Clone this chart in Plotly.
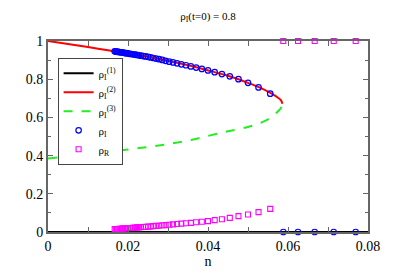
import plotly.graph_objects as go

# ---- data ----
# branch rho_I^(2) (upper, red)
n_red = [0, 0.005, 0.010, 0.015, 0.020, 0.025, 0.030, 0.035, 0.040, 0.045,
         0.050, 0.053, 0.0556, 0.0575, 0.0583, 0.0586]
rho_red = [1.0, 0.984, 0.968, 0.952, 0.936, 0.918, 0.897, 0.873, 0.846, 0.818,
           0.781, 0.756, 0.728, 0.703, 0.688, 0.671]
# branch rho_I^(3) (lower, green dashed)
n_green = [0, 0.005, 0.010, 0.015, 0.020, 0.025, 0.030, 0.035, 0.040, 0.045,
           0.050, 0.053, 0.055, 0.0565, 0.0575, 0.0582, 0.0586]
rho_green = [0.385, 0.396, 0.408, 0.420, 0.432, 0.445, 0.460, 0.479, 0.503, 0.527,
             0.550, 0.570, 0.590, 0.612, 0.632, 0.648, 0.671]
# branch rho_I^(1) (trivial, black)
n_black = [0, 0.08]
rho_black = [0, 0]

# simulation points, n = 1/L
n_sim = [0.07692, 0.07143, 0.06667, 0.0625, 0.05882,
         0.05556, 0.05263, 0.05, 0.04762, 0.04545, 0.04348, 0.04167, 0.04,
         0.03846, 0.03704, 0.03571, 0.03448, 0.03333, 0.03226, 0.03125, 0.0303,
         0.02941, 0.02857, 0.02778, 0.02703, 0.02632, 0.02564, 0.025, 0.02439,
         0.02381, 0.02326, 0.02273, 0.02222, 0.02174, 0.02128, 0.02083, 0.02041,
         0.02, 0.01961, 0.01923, 0.01887, 0.01852, 0.01818, 0.01786, 0.01754,
         0.01724, 0.01695, 0.01667]
rho_I_sim = [0, 0, 0, 0, 0,
             0.724, 0.757, 0.781, 0.800, 0.815, 0.827, 0.837, 0.846,
             0.854, 0.861, 0.867, 0.873, 0.878, 0.883, 0.888, 0.892,
             0.896, 0.901, 0.905, 0.908, 0.911, 0.914, 0.917, 0.919,
             0.921, 0.923, 0.925, 0.927, 0.929, 0.930, 0.932, 0.933,
             0.935, 0.936, 0.937, 0.939, 0.940, 0.941, 0.942, 0.943,
             0.944, 0.945, 0.946]
rho_R_sim = [1, 1, 1, 1, 1,
             0.121, 0.104, 0.092, 0.083, 0.074, 0.067, 0.062, 0.057,
             0.054, 0.051, 0.048, 0.046, 0.044, 0.042, 0.040, 0.038,
             0.036, 0.035, 0.033, 0.032, 0.031, 0.029, 0.028, 0.027,
             0.026, 0.025, 0.024, 0.024, 0.023, 0.022, 0.021, 0.021,
             0.020, 0.020, 0.019, 0.018, 0.018, 0.017, 0.017, 0.016,
             0.016, 0.016, 0.015]

x_ticks = [0, 0.02, 0.04, 0.06, 0.08]
y_ticks = [0, 0.2, 0.4, 0.6, 0.8, 1]

FONT = "Liberation Serif, Times New Roman, serif"

fig = go.Figure()
fig.add_trace(go.Scatter(x=n_black, y=rho_black, mode="lines",
                         line=dict(color="black", width=2),
                         name="ρ<sub>I</sub><sup>(1)</sup>"))
fig.add_trace(go.Scatter(x=n_red, y=rho_red, mode="lines",
                         line=dict(color="#ff0000", width=2, shape="spline"),
                         name="ρ<sub>I</sub><sup>(2)</sup>"))
fig.add_trace(go.Scatter(x=n_green, y=rho_green, mode="lines",
                         line=dict(color="#22ee22", width=2, dash="dash", shape="spline"),
                         name="ρ<sub>I</sub><sup>(3)</sup>"))
fig.add_trace(go.Scatter(x=n_sim, y=rho_I_sim, mode="markers",
                         marker=dict(symbol="circle-open", size=5.5, color="#0000ff",
                                     line=dict(width=1.2, color="#0000ff")),
                         cliponaxis=False,
                         name="ρ<sub>I</sub>"))
fig.add_trace(go.Scatter(x=n_sim, y=rho_R_sim, mode="markers",
                         marker=dict(symbol="square-open", size=5, color="#ff00ff",
                                     line=dict(width=1.1, color="#ff00ff")),
                         cliponaxis=False,
                         name="ρ<sub>R</sub>"))

axis_common = dict(
    showline=True, linecolor="#666666", linewidth=2, mirror="ticks",
    ticks="inside", ticklen=5, tickcolor="#666666", tickwidth=1,
    showgrid=False, zeroline=False, automargin=False,
    tickfont=dict(family=FONT, size=14, color="black"),
)

fig.update_xaxes(range=[0, 0.08], tickvals=x_ticks,
                 ticktext=["0", "0.02", "0.04", "0.06", "0.08"],
                 minor=dict(dtick=0.01, ticks="inside", ticklen=5, tickcolor="#666666"),
                 title=dict(text="n", font=dict(family=FONT, size=14, color="black"), standoff=0),
                 **axis_common)
fig.update_yaxes(range=[0, 1], tickvals=y_ticks,
                 ticktext=["0", "0.2", "0.4", "0.6", "0.8", "1"],
                 minor=dict(dtick=0.1, ticks="inside", ticklen=3, tickcolor="#666666"),
                 **axis_common)

fig.update_layout(
    width=415, height=273,
    margin=dict(l=48, r=47, t=41, b=41),
    paper_bgcolor="white", plot_bgcolor="white",
    title=dict(text="ρ<sub>I</sub>(t=0) = 0.8", x=(48 + 160) / 415, xanchor="center",
               y=1 - 16 / 273, yanchor="middle",
               font=dict(family=FONT, size=11, color="black")),
    legend=dict(x=0.03, y=0.912, xanchor="left", yanchor="top",
                bordercolor="#444444", borderwidth=1, bgcolor="white",
                font=dict(family=FONT, size=11, color="black"),
                tracegroupgap=0, itemwidth=30),
    showlegend=True,
)

fig.write_html("out.html", config={"displayModeBar": False},
               post_script="document.body.style.margin='0';document.body.style.overflow='hidden';")
